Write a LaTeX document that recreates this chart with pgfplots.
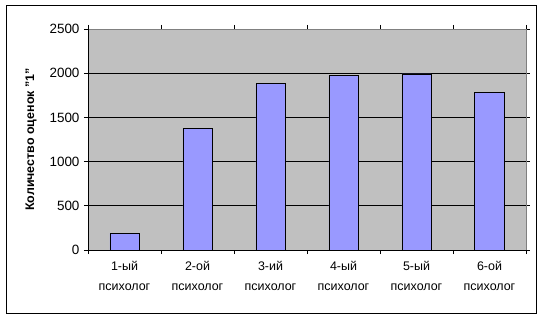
\documentclass[border=0pt]{standalone}
\usepackage{pgfplots}
\pgfplotsset{compat=1.18}
\usepackage{fontspec}
\setmainfont{Liberation Sans}
\definecolor{plotgrey}{HTML}{C0C0C0}
\definecolor{barblue}{HTML}{9999FF}
\begin{document}
\begin{tikzpicture}
\begin{axis}[
  name=ax,
  at={(0,0)}, anchor=south west,
  scale only axis,
  width=438bp, height=221bp,
  xmin=0.5, xmax=6.5,
  ymin=0, ymax=2500,
  ytick={0,500,...,2500},
  ymajorgrids,
  grid style={black, line width=0.8pt},
  axis background/.style={fill=plotgrey},
  axis line style={draw=none},
  xtick={1,...,6},
  xticklabels={{1-ый\\психолог},{2-ой\\психолог},{3-ий\\психолог},{4-ый\\психолог},{5-ый\\психолог},{6-ой\\психолог}},
  minor xtick={0.5,1.5,...,6.5},
  major x tick style={draw=none},
  minor tick length=4bp,
  major tick length=4bp,
  tick align=outside,
  tick style={black, line width=0.8pt},
  xticklabel style={align=center, font=\fontsize{12.5}{19.5}\selectfont, yshift=-4bp},
  yticklabel style={font=\fontsize{13.5}{15}\selectfont, xshift=-1bp},
  /pgf/number format/assume math mode=true,
  /pgf/number format/1000 sep={},
  every axis y label/.style={at={(rel axis cs:0,0.5)}, xshift=-57bp, rotate=90, anchor=center},
  ylabel={\bfseries\fontsize{12.5}{15}\selectfont Количество оценок "1"},
  clip=false,
]
\addplot[ybar, bar width=0.4, fill=barblue, draw=black, line width=0.8pt] coordinates {
  (1,189) (2,1377) (3,1885) (4,1976) (5,1991) (6,1784)
};
\draw[draw=gray, line width=0.8pt] (rel axis cs:0,1) -- (rel axis cs:1,1) -- (rel axis cs:1,0);
\draw[black, line width=0.8pt] (rel axis cs:0,1) -- (rel axis cs:0,0) -- (rel axis cs:1,0);
\end{axis}
\draw[black, line width=1pt] ([shift={(-82bp,-63bp)}]ax.south west) rectangle ([shift={(448bp,244bp)}]ax.south west);
\useasboundingbox ([shift={(-88bp,-70bp)}]ax.south west) rectangle ([shift={(455bp,250bp)}]ax.south west);
\end{tikzpicture}
\end{document}
